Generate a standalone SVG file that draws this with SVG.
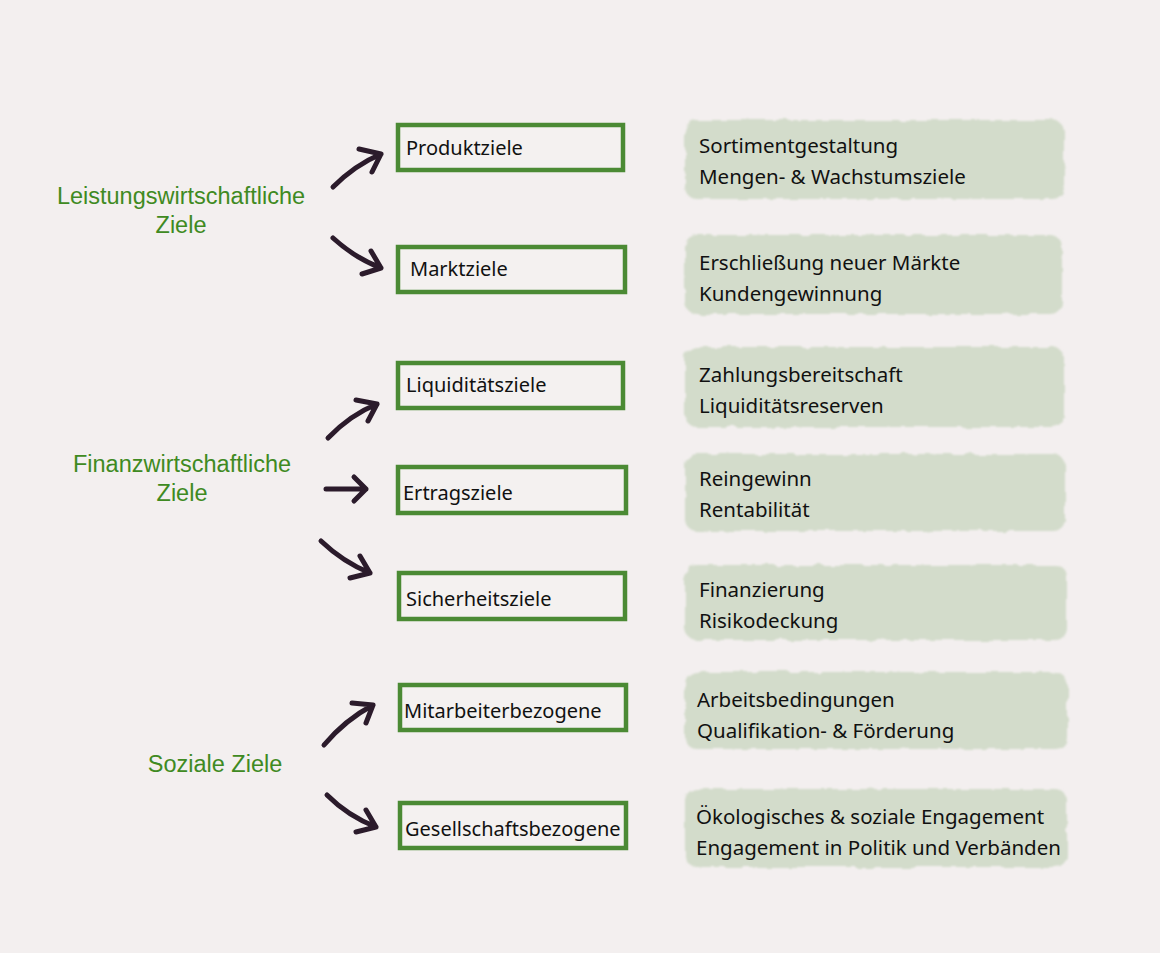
<svg xmlns="http://www.w3.org/2000/svg" width="1160" height="953" viewBox="0 0 1160 953">
<defs>
<style>
.bg{fill:#f3efef}
.box{fill:#f4f1f0;stroke:#4b8a34;stroke-width:4.5}
.blob{fill:#d3dccb}
.bt{font-family:"Noto Sans","Open Sans",sans-serif;font-size:20px;fill:#111}
.lt{font-family:"Noto Sans","Open Sans",sans-serif;font-size:20.5px;fill:#111}
.gt{font-family:"Liberation Sans",Arial,sans-serif;font-size:23.5px;fill:#3f8a22;text-anchor:middle}
.arr{fill:none;stroke:#2b1b2b;stroke-width:5;stroke-linecap:round;stroke-linejoin:round}
</style>
<filter id="rough" x="-5%" y="-20%" width="110%" height="140%">
<feTurbulence type="fractalNoise" baseFrequency="0.08" numOctaves="2" seed="3"/>
<feDisplacementMap in="SourceGraphic" scale="6"/>
<feGaussianBlur stdDeviation="0.8"/>
</filter>
</defs>
<rect class="bg" width="1160" height="953"/>

<g id="cat-leistung"><text class="gt" x="181" y="204">Leistungswirtschaftliche</text><text class="gt" x="181" y="233">Ziele</text></g>
<g id="cat-finanz"><text class="gt" x="182" y="472">Finanzwirtschaftliche</text><text class="gt" x="182" y="501">Ziele</text></g>
<g id="cat-sozial"><text class="gt" x="215" y="772">Soziale Ziele</text></g>

<g id="connectors">
<path class="arr" d="M333,187 Q355,165 381,154 M359,149 L381,154 L372,172"/>
<path class="arr" d="M333,238 Q355,258 381,268 M362,274 L381,268 L371,251"/>
<path class="arr" d="M328,438 Q350,415 377,404 M356,400 L377,404 L368,421"/>
<path class="arr" d="M326,489 L366,489 M354,477 L366,489 L354,501"/>
<path class="arr" d="M321,541 Q343,562 370,573 M350,578 L370,573 L360,556"/>
<path class="arr" d="M324,745 Q345,720 373,705 M352,703 L373,705 L366,723"/>
<path class="arr" d="M327,795 Q348,816 376,827 M356,832 L376,827 L366,810"/>
</g>

<g id="n-produkt"><rect class="box" x="398" y="125" width="225" height="45"/><text class="bt" x="406" y="155">Produktziele</text></g>
<g id="n-markt"><rect class="box" x="398" y="247" width="227" height="45"/><text class="bt" x="410" y="276">Marktziele</text></g>
<g id="n-liquid"><rect class="box" x="398" y="363" width="225" height="45"/><text class="bt" x="406" y="392">Liquiditätsziele</text></g>
<g id="n-ertrag"><rect class="box" x="398" y="467" width="228" height="46"/><text class="bt" x="403" y="500">Ertragsziele</text></g>
<g id="n-sicher"><rect class="box" x="399" y="573" width="226" height="46"/><text class="bt" x="406" y="606">Sicherheitsziele</text></g>
<g id="n-mitarb"><rect class="box" x="400" y="685" width="226" height="45"/><text class="bt" x="404" y="718">Mitarbeiterbezogene</text></g>
<g id="n-gesell"><rect class="box" x="400" y="803" width="226" height="45"/><text class="bt" x="405" y="836">Gesellschaftsbezogene</text></g>

<g id="d-produkt"><rect class="blob" filter="url(#rough)" x="685" y="120" width="379" height="79" rx="12"/><text class="lt" x="699" y="153">Sortimentgestaltung</text><text class="lt" x="699" y="184">Mengen- &amp; Wachstumsziele</text></g>
<g id="d-markt"><rect class="blob" filter="url(#rough)" x="685" y="235" width="377" height="79" rx="12"/><text class="lt" x="699" y="270">Erschließung neuer Märkte</text><text class="lt" x="699" y="301">Kundengewinnung</text></g>
<g id="d-liquid"><rect class="blob" filter="url(#rough)" x="685" y="347" width="379" height="80" rx="12"/><text class="lt" x="699" y="382">Zahlungsbereitschaft</text><text class="lt" x="699" y="413">Liquiditätsreserven</text></g>
<g id="d-ertrag"><rect class="blob" filter="url(#rough)" x="685" y="454" width="380" height="77" rx="12"/><text class="lt" x="699" y="486">Reingewinn</text><text class="lt" x="699" y="517">Rentabilität</text></g>
<g id="d-sicher"><rect class="blob" filter="url(#rough)" x="685" y="565" width="382" height="75" rx="12"/><text class="lt" x="699" y="597">Finanzierung</text><text class="lt" x="699" y="628">Risikodeckung</text></g>
<g id="d-mitarb"><rect class="blob" filter="url(#rough)" x="685" y="672" width="382" height="77" rx="12"/><text class="lt" x="697" y="707">Arbeitsbedingungen</text><text class="lt" x="697" y="738">Qualifikation- &amp; Förderung</text></g>
<g id="d-gesell"><rect class="blob" filter="url(#rough)" x="685" y="789" width="382" height="78" rx="12"/><text class="lt" x="696" y="824">Ökologisches &amp; soziale Engagement</text><text class="lt" x="696" y="855">Engagement in Politik und Verbänden</text></g>
</svg>
